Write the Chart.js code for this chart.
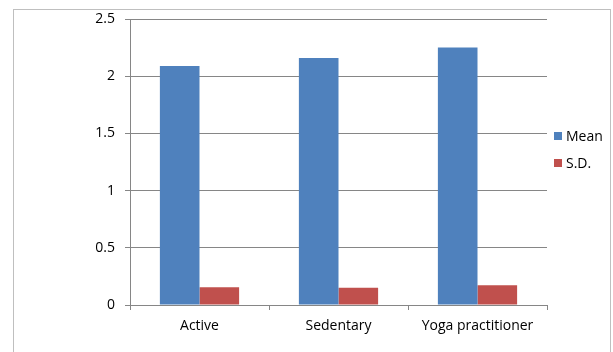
<!DOCTYPE html>
<html>
<head>
<meta charset="utf-8">
<script src="https://cdn.jsdelivr.net/npm/chart.js@4/dist/chart.umd.min.js"></script>
<style>
  html, body { margin: 0; padding: 0; background: #fff; }
  #wrap { position: relative; width: 613px; height: 352px; }
</style>
</head>
<body>
<div id="wrap"><canvas id="chart" width="613" height="352"></canvas></div>
<script>
// data
const categories = ["Active", "Sedentary", "Yoga practitioner"];
const meanValues = [2.09, 2.16, 2.25];
const sdValues = [0.155, 0.15, 0.172];
const seriesNames = ["Mean", "S.D."];
const yTicks = [0, 0.5, 1, 1.5, 2, 2.5];

const gridColor = "#868686";

// outer frame + legend on the right
const frameAndLegend = {
  id: "frameAndLegend",
  beforeDraw(c) {
    const ctx = c.ctx;
    ctx.save();
    ctx.strokeStyle = "#bfbfbf";
    ctx.lineWidth = 1;
    ctx.strokeRect(13.5, 9.5, 597, 360);
    ctx.restore();
  },
  afterDraw(c) {
    const ctx = c.ctx;
    ctx.save();
    ctx.font = "14px 'Open Sans'";
    ctx.textBaseline = "middle";
    c.data.datasets.forEach((ds, i) => {
      const y = 136 + i * 27;
      ctx.fillStyle = ds.backgroundColor;
      ctx.fillRect(554, y - 4, 8, 8);
      ctx.fillStyle = "#000";
      ctx.fillText(ds.label, 566, y + 1);
    });
    ctx.restore();
  }
};

Chart.defaults.font.family = "'Open Sans'";
Chart.defaults.font.size = 14;
Chart.defaults.color = "#000";

new Chart(document.getElementById("chart"), {
  type: "bar",
  data: {
    labels: categories,
    datasets: [
      { label: seriesNames[0], data: meanValues, backgroundColor: "#4f81bd" },
      { label: seriesNames[1], data: sdValues, backgroundColor: "#c0504d" }
    ]
  },
  options: {
    responsive: false,
    animation: false,
    layout: { padding: { top: 19, right: 66, left: 0, bottom: 0 } },
    datasets: { bar: { categoryPercentage: 0.57, barPercentage: 1 } },
    plugins: { legend: { display: false }, tooltip: { enabled: false } },
    scales: {
      x: {
        grid: { offset: true, drawOnChartArea: false, drawTicks: true, tickLength: 5, color: gridColor },
        border: { color: gridColor },
        ticks: { padding: 8 },
        afterFit(s) { s.height = 47; }
      },
      y: {
        min: 0,
        max: 2.5,
        afterBuildTicks(s) { s.ticks = yTicks.map(v => ({ value: v })); },
        grid: { color: gridColor, tickLength: 5 },
        border: { color: gridColor },
        ticks: { padding: 10, callback: v => String(v) },
        afterFit(s) { s.width = 130; }
      }
    }
  },
  plugins: [frameAndLegend]
});
</script>
</body>
</html>
